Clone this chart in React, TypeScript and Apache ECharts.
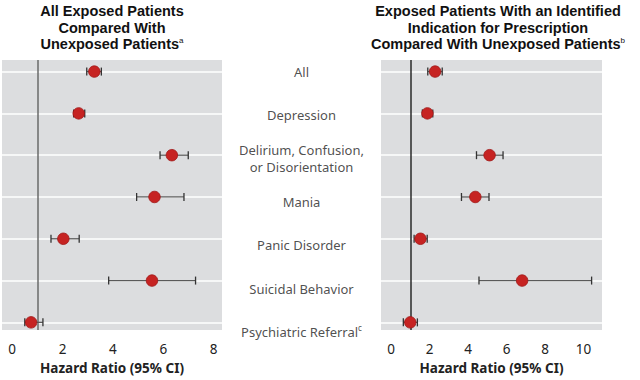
import React, { useEffect, useRef } from "react";
import * as echarts from "echarts";

const categories = [
  "All",
  "Depression",
  "Delirium, Confusion,\nor Disorientation",
  "Mania",
  "Panic Disorder",
  "Suicidal Behavior",
  "Psychiatric Referral{sup|c}",
];

const leftHR = [3.26, 2.64, 6.34, 5.65, 2.03, 5.55, 0.75];
const leftLo = [2.96, 2.44, 5.87, 4.94, 1.54, 3.83, 0.5];
const leftHi = [3.54, 2.88, 6.99, 6.82, 2.66, 7.28, 1.22];

const rightHR = [2.29, 1.89, 5.12, 4.38, 1.53, 6.81, 1.0];
const rightLo = [1.91, 1.63, 4.44, 3.66, 1.2, 4.57, 0.64];
const rightHi = [2.66, 2.17, 5.82, 5.09, 1.88, 10.42, 1.37];

const leftTicks = [0, 2, 4, 6, 8];
const rightTicks = [0, 2, 4, 6, 8, 10];
const referenceHR = 1;

const leftTitle = "All Exposed Patients\nCompared With\nUnexposed Patients{sup|a}";
const rightTitle =
  "Exposed Patients With an Identified\nIndication for Prescription\nCompared With Unexposed Patients{sup|b}";
const axisTitle = "Hazard Ratio (95% CI)";

const FONT = "'Noto Sans', 'Open Sans', sans-serif";
const TITLE_FONT = "'Liberation Sans', Arial, sans-serif";
const GRAY = "#dcdddf";
const DOT = "#c62322";

export default function App() {
  const ref = useRef<HTMLDivElement>(null);

  useEffect(() => {
    if (!ref.current) return;
    const chart = echarts.init(ref.current, undefined, { renderer: "svg" });
    const rows = categories.map((_, i) => i);
    const yRange = { min: -0.277, max: 6.185 };

    const yAxisBase = (gridIndex: number) => ({
      type: "value",
      gridIndex,
      inverse: true,
      ...yRange,
      axisLine: { show: false },
      axisTick: { show: false },
      axisLabel: { show: false },
      splitLine: { show: false },
    });

    const xAxisBase = (gridIndex: number, min: number, max: number, ticks: number[]) => ({
      type: "value",
      gridIndex,
      min,
      max,
      axisLine: { show: false },
      axisTick: { show: false },
      splitLine: { show: false },
      axisLabel: {
        customValues: ticks,
        color: "#222",
        fontSize: 13.5,
        fontFamily: FONT,
        margin: 12,
      },
      name: axisTitle,
      nameLocation: "middle",
      nameGap: 30,
      nameTextStyle: { fontSize: 13.5, fontWeight: "bold", color: "#222", fontFamily: FONT },
    });

    const errorSeries = (idx: number, lo: number[], hi: number[]) => ({
      type: "custom",
      xAxisIndex: idx,
      yAxisIndex: idx,
      z: 3,
      data: rows.map((i) => [lo[i], hi[i], i]),
      renderItem: (params: any, api: any) => {
        const a = api.coord([api.value(0), api.value(2)]);
        const b = api.coord([api.value(1), api.value(2)]);
        const h = 4;
        return {
          type: "group",
          children: [
            { type: "line", shape: { x1: a[0], y1: a[1], x2: b[0], y2: b[1] }, style: { stroke: "#5a5a5a", lineWidth: 1.3 } },
            { type: "line", shape: { x1: a[0], y1: a[1] - h, x2: a[0], y2: a[1] + h }, style: { stroke: "#333", lineWidth: 1.3 } },
            { type: "line", shape: { x1: b[0], y1: b[1] - h, x2: b[0], y2: b[1] + h }, style: { stroke: "#333", lineWidth: 1.3 } },
          ],
        };
      },
    });

    const dotSeries = (idx: number, hr: number[]) => ({
      type: "scatter",
      xAxisIndex: idx,
      yAxisIndex: idx,
      z: 4,
      symbolSize: 11.5,
      itemStyle: { color: DOT, borderColor: "#a01616", borderWidth: 0.8, opacity: 1 },
      data: rows.map((i) => [hr[i], i]),
    });

    const lineSeries = (idx: number, refColor: string) => ({
      type: "scatter",
      xAxisIndex: idx,
      yAxisIndex: idx,
      z: 1,
      data: [],
      markLine: {
        silent: true,
        z: 1,
        symbol: "none",
        label: { show: false },
        animation: false,
        data: [
          ...rows.map((i) => ({ yAxis: i, lineStyle: { color: "#ffffff", width: 1.6, type: "solid" } })),
          { xAxis: referenceHR, lineStyle: { color: refColor, width: 1.5, type: "solid" } },
        ],
      },
    });

    const titleStyle = (text: string) => ({
      text,
      fill: "#111",
      font: `bold 14.5px ${TITLE_FONT}`,
      fontSize: 14.5,
      fontWeight: "bold",
      fontFamily: TITLE_FONT,
      textAlign: "center",
      lineHeight: 16.5,
      rich: { sup: { fontSize: 8, verticalAlign: "top", lineHeight: 12, fontFamily: TITLE_FONT, fill: "#111" } },
    });

    chart.setOption({
      animation: false,
      grid: [
        { left: 2, top: 60, width: 220, height: 280, show: true, backgroundColor: GRAY, borderWidth: 0 },
        { left: 381, top: 60, width: 221, height: 280, show: true, backgroundColor: GRAY, borderWidth: 0 },
        { left: 222, top: 60, width: 159, height: 280, show: false },
      ],
      xAxis: [
        xAxisBase(0, -0.405, 8.33, leftTicks),
        xAxisBase(1, -0.52, 10.96, rightTicks),
        { type: "value", gridIndex: 2, min: 0, max: 1, show: false },
      ],
      yAxis: [yAxisBase(0), yAxisBase(1), { ...yAxisBase(2), show: false }],
      graphic: [
        { type: "text", x: 112, y: 3, style: titleStyle(leftTitle) },
        { type: "text", x: 498, y: 3, style: titleStyle(rightTitle) },
      ],
      series: [
        lineSeries(0, "#6a6a6a"),
        errorSeries(0, leftLo, leftHi),
        dotSeries(0, leftHR),
        lineSeries(1, "#2a2a2a"),
        errorSeries(1, rightLo, rightHi),
        dotSeries(1, rightHR),
        {
          type: "scatter",
          xAxisIndex: 2,
          yAxisIndex: 2,
          symbol: "circle",
          symbolSize: 1,
          itemStyle: { color: "rgba(0,0,0,0)" },
          data: rows.map((i) => ({ value: [0.5, i], name: categories[i] })),
          label: {
            show: true,
            position: "inside",
            formatter: (p: any) => p.name,
            color: "#222",
            fontSize: 13,
            fontFamily: FONT,
            lineHeight: 17.5,
            align: "center",
            verticalAlign: "middle",
            rich: { sup: { fontSize: 8, verticalAlign: "top", lineHeight: 12, color: "#222", fontFamily: FONT } },
          },
        },
      ],
    });

    return () => chart.dispose();
  }, []);

  return (
    <div
      ref={ref}
      style={{ position: "absolute", left: 0, top: 0, width: 640, height: 380 }}
    />
  );
}
